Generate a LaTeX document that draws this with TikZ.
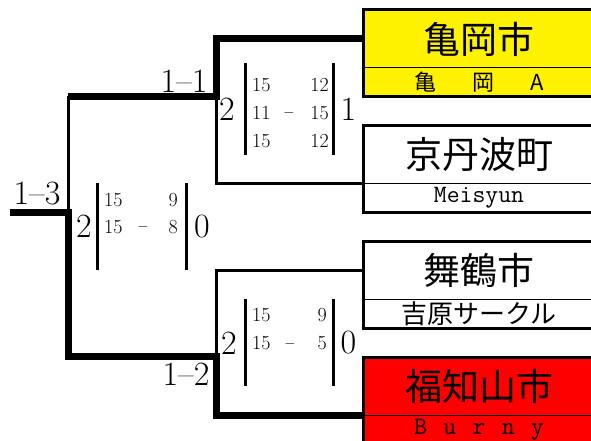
\documentclass[tikz,border=0pt]{standalone}
\usepackage{fontspec}
\newfontfamily\jpfont{Noto Sans CJK JP}
\usetikzlibrary{positioning}
\tikzset{
    city/.style={draw,line width=1pt,fill=white,outer sep=0pt,inner sep=0pt,
        minimum width=231pt,minimum height=58pt,font=\jpfont\fontsize{37pt}{40pt}\selectfont},
    club/.style={draw,line width=1pt,fill=white,outer sep=0pt,inner sep=0pt,
        minimum width=231pt,minimum height=29pt},
    teamframe/.style={line width=3pt},
    won/.style={line width=7pt},
    lost/.style={line width=3pt},
    scorebar/.style={line width=3pt},
    games/.style={inner sep=0pt,font=\fontsize{34pt}{36pt}\selectfont},
    pts/.style={inner sep=0pt,font=\fontsize{20pt}{22pt}\selectfont},
    ptsminus/.style={inner sep=0pt,font=\fontsize{14pt}{16pt}\selectfont},
}
\begin{document}
\begin{tikzpicture}[x=1pt,y=-1pt]
        \useasboundingbox (0,0) rectangle (591,441);
        \clip (0,0) rectangle (591,441);
        % teams
        \node[city,fill=yellow,anchor=north west] (kameoka) at (363.5,10) {亀岡市};
        \node[club,fill=yellow,below=0pt of kameoka,font=\jpfont\fontsize{22pt}{24pt}\selectfont] (kameokaA)
        {\makebox[130pt][s]{亀\hfill 岡\hfill A}};
        \node[city,below=28pt of kameokaA] (kyotamba) {京丹波町};
        \node[club,below=0pt of kyotamba,font=\ttfamily\fontsize{25pt}{27pt}\selectfont] (meisyun) {Meisyun};
        \node[city,below=29pt of meisyun] (maizuru) {舞鶴市};
        \node[club,below=0pt of maizuru,font=\jpfont\fontsize{26pt}{28pt}\selectfont] (yoshihara) {吉原サークル};
        \node[city,fill=red,below=29pt of yoshihara] (fukuchiyama) {福知山市};
        \node[club,fill=red,below=0pt of fukuchiyama,font=\ttfamily\fontsize{25pt}{27pt}\selectfont] (burny)
        {\makebox[130pt][s]{B\hfill u\hfill r\hfill n\hfill y}};
        % bracket
        \coordinate (m11) at (216,96.5);
        \coordinate (m12) at (216,356.5);
        \coordinate (m13) at (68,212);
        \coordinate (champ) at (10,212);
        \draw[lost]
        (m11) |- (kyotamba.south west)
        ;
        \draw[lost]
        (m11 -| m13) -- (m13)
        ;
        \draw[lost]
        (m12) |- (maizuru.west)
        ;
        \draw[won]
        (kameoka.west) -| (m11) -- (m11 -| m13)
        ;
        \draw[won]
        (fukuchiyama.south west) -| (m12) -- (m12 -| m13) -- (m13) -- (champ)
        ;
        \draw[teamframe] (kameoka.north west) rectangle (kameokaA.south east);
        \draw[teamframe] (kyotamba.north west) rectangle (meisyun.south east);
        \draw[teamframe] (maizuru.north west) rectangle (yoshihara.south east);
        \draw[teamframe] (fukuchiyama.north west) rectangle (burny.south east);
        % rounds
        \node[games] (r11) at (184,81) {1--1};
        \node[games] (r12) at (186,374) {1--2};
        \node[games] (r13) at (37,194) {1--3};
        % 1-1
        \node[games] (w11) at (227,109) {2};
        \node[games] (l11) at (348.5,109) {1};
        \draw[scorebar] (245,63) -- (245,155);
        \draw[scorebar] (333.5,63) -- (333.5,155);
        \foreach \ry/\pa/\pb [count=\i] in {85/15/12,113/11/15,141/15/12} {
            \node[pts,anchor=west] (p11a\i) at (252,\ry) {\pa};
            \node[pts,anchor=east] (p11b\i) at (329,\ry) {\pb};
        }
        \node[ptsminus] (d11) at (289,113) {$-$};
        % 1-2
        \node[games] (w12) at (229,343) {2};
        \node[games] (l12) at (348.5,343) {0};
        \draw[scorebar] (245.5,299) -- (245.5,386);
        \draw[scorebar] (333.5,299) -- (333.5,386);
        \foreach \ry/\pa/\pb [count=\i] in {315/15/9,343.5/15/5} {
            \node[pts,anchor=west] (p12a\i) at (252,\ry) {\pa};
            \node[pts,anchor=east] (p12b\i) at (327,\ry) {\pb};
        }
        \node[ptsminus] (d12) at (290,343.5) {$-$};
        % 1-3
        \node[games] (w13) at (84,226) {2};
        \node[games] (l13) at (202,227) {0};
        \draw[scorebar] (97.5,183) -- (97.5,270);
        \draw[scorebar] (186,183) -- (186,270);
        \foreach \ry/\pa/\pb [count=\i] in {200/15/9,227/15/8} {
            \node[pts,anchor=west] (p13a\i) at (104,\ry) {\pa};
            \node[pts,anchor=east] (p13b\i) at (178,\ry) {\pb};
        }
        \node[ptsminus] (d13) at (143,227) {$-$};
\end{tikzpicture}
\end{document}
